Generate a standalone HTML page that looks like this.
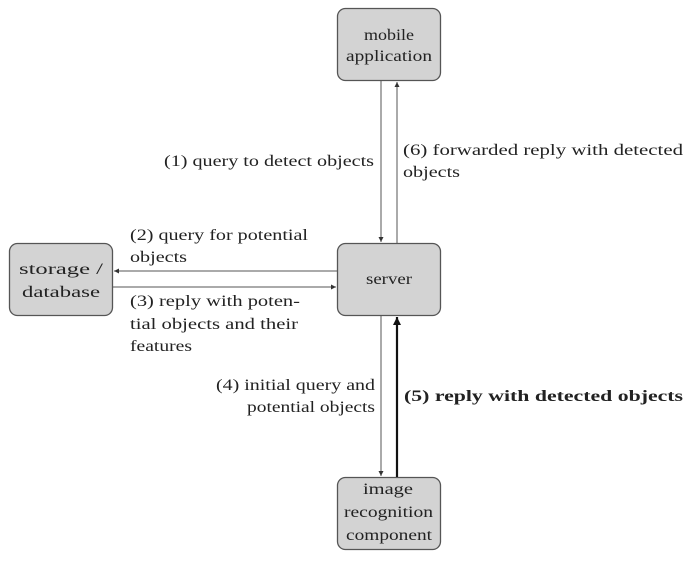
<!DOCTYPE html>
<html><head><style>
body{margin:0;background:#fff;}
svg text{font-family:"Liberation Serif",serif;font-size:16px;fill:#222;}
</style></head><body>
<svg width="700" height="562" viewBox="0 0 700 562" xmlns="http://www.w3.org/2000/svg">
<defs>
<marker id="a" markerWidth="6" markerHeight="6" refX="5" refY="3" orient="auto" markerUnits="userSpaceOnUse"><path d="M0,0.5 L5,3 L0,5.5z" fill="#333"/></marker>
<marker id="b" markerWidth="9" markerHeight="8" refX="8" refY="4" orient="auto" markerUnits="userSpaceOnUse"><path d="M0,0 L8,4 L0,8z" fill="#111"/></marker>
</defs>
<g fill="#d3d3d3" stroke="#555" stroke-width="1.3">
<rect x="337.5" y="8.5" width="103" height="72" rx="8"/>
<rect x="337.5" y="243.5" width="103" height="72" rx="8"/>
<rect x="9.5" y="243.5" width="103" height="72" rx="8"/>
<rect x="337.5" y="477.5" width="103" height="72" rx="8"/>
</g>
<g stroke="#555" stroke-width="1" fill="none">
<line x1="381" y1="81" x2="381" y2="242" marker-end="url(#a)"/>
<line x1="397" y1="243" x2="397" y2="82" marker-end="url(#a)"/>
<line x1="337" y1="271" x2="114" y2="271" marker-end="url(#a)"/>
<line x1="113" y1="287" x2="336" y2="287" marker-end="url(#a)"/>
<line x1="381" y1="316" x2="381" y2="476" marker-end="url(#a)"/>
</g>
<line x1="397" y1="477" x2="397" y2="317" stroke="#111" stroke-width="2.2" marker-end="url(#b)"/>
<g lengthAdjust="spacingAndGlyphs">
<text x="364" y="40" textLength="50" lengthAdjust="spacingAndGlyphs">mobile</text>
<text x="346" y="61" textLength="86" lengthAdjust="spacingAndGlyphs">application</text>
<text x="366" y="284" textLength="46" lengthAdjust="spacingAndGlyphs">server</text>
<text x="19" y="274" textLength="84" lengthAdjust="spacingAndGlyphs">storage /</text>
<text x="22" y="297" textLength="78" lengthAdjust="spacingAndGlyphs">database</text>
<text x="363" y="494" textLength="50" lengthAdjust="spacingAndGlyphs">image</text>
<text x="344" y="517" textLength="89" lengthAdjust="spacingAndGlyphs">recognition</text>
<text x="346" y="540" textLength="86" lengthAdjust="spacingAndGlyphs">component</text>
<text x="164" y="166" textLength="210" lengthAdjust="spacingAndGlyphs">(1) query to detect objects</text>
<text x="403" y="155" textLength="280" lengthAdjust="spacingAndGlyphs">(6) forwarded reply with detected</text>
<text x="403" y="177" textLength="57" lengthAdjust="spacingAndGlyphs">objects</text>
<text x="130" y="240" textLength="178" lengthAdjust="spacingAndGlyphs">(2) query for potential</text>
<text x="130" y="262" textLength="57" lengthAdjust="spacingAndGlyphs">objects</text>
<text x="130" y="306" textLength="170" lengthAdjust="spacingAndGlyphs">(3) reply with poten-</text>
<text x="130" y="329" textLength="168" lengthAdjust="spacingAndGlyphs">tial objects and their</text>
<text x="130" y="351" textLength="62" lengthAdjust="spacingAndGlyphs">features</text>
<text x="216" y="390" textLength="159" lengthAdjust="spacingAndGlyphs">(4) initial query and</text>
<text x="247" y="412" textLength="128" lengthAdjust="spacingAndGlyphs">potential objects</text>
<text x="404" y="401" textLength="279" lengthAdjust="spacingAndGlyphs" style="font-weight:bold">(5) reply with detected objects</text>
</g>
</svg>
</body></html>
